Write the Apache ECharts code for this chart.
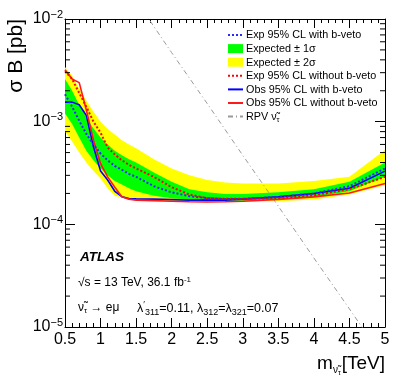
<!DOCTYPE html>
<html>
<head>
<meta charset="utf-8">
<script src="https://cdn.jsdelivr.net/npm/echarts@6/dist/echarts.min.js"></script>
<style>
    html,body{margin:0;padding:0;background:#ffffff;}
    #container{width:407px;height:391px;}
</style>
</head>
<body>
<div id="container"></div>
<script>
// mass points [TeV]
var mass = [0.5, 0.6, 0.7, 0.8, 0.9, 1.0, 1.1, 1.2, 1.3, 1.4, 1.5, 1.75, 2.0, 2.25, 2.5, 2.75, 3.0, 3.5, 4.0, 4.5, 5.0];
// limits [pb]
var expVeto   = [1.85e-3, 1.4e-3, 1.02e-3, 7.6e-4, 6.0e-4, 4.9e-4, 4.2e-4, 3.7e-4, 3.4e-4, 3.1e-4, 2.9e-4, 2.35e-4, 2.05e-4, 1.88e-4, 1.8e-4, 1.76e-4, 1.77e-4, 1.85e-4, 2.0e-4, 2.35e-4, 3.5e-4];
var sig1Up    = [2.6e-3, 2.0e-3, 1.45e-3, 1.1e-3, 8.6e-4, 7.0e-4, 6.0e-4, 5.2e-4, 4.7e-4, 4.3e-4, 4.0e-4, 3.2e-4, 2.6e-4, 2.2e-4, 2.05e-4, 1.98e-4, 1.98e-4, 2.05e-4, 2.2e-4, 2.6e-4, 4.0e-4];
var sig1Down  = [1.2e-3, 9.5e-4, 7.0e-4, 5.2e-4, 4.2e-4, 3.5e-4, 3.0e-4, 2.65e-4, 2.45e-4, 2.25e-4, 2.1e-4, 1.9e-4, 1.8e-4, 1.75e-4, 1.72e-4, 1.7e-4, 1.7e-4, 1.75e-4, 1.85e-4, 2.1e-4, 2.9e-4];
var sig2Up    = [3.4e-3, 2.8e-3, 2.1e-3, 1.6e-3, 1.25e-3, 1.0e-3, 8.5e-4, 7.5e-4, 6.6e-4, 6.0e-4, 5.5e-4, 4.3e-4, 3.5e-4, 3.0e-4, 2.7e-4, 2.55e-4, 2.5e-4, 2.5e-4, 2.65e-4, 2.9e-4, 5.3e-4];
var sig2Down  = [8.0e-4, 6.4e-4, 5.0e-4, 4.0e-4, 3.3e-4, 2.8e-4, 2.25e-4, 1.9e-4, 1.82e-4, 1.78e-4, 1.75e-4, 1.72e-4, 1.7e-4, 1.68e-4, 1.66e-4, 1.65e-4, 1.65e-4, 1.68e-4, 1.75e-4, 1.95e-4, 2.4e-4];
var expNoVeto = [3.1e-3, 2.6e-3, 1.9e-3, 1.4e-3, 1.0e-3, 7.8e-4, 5.6e-4, 4.8e-4, 4.2e-4, 3.8e-4, 3.5e-4, 2.9e-4, 2.3e-4, 1.95e-4, 1.8e-4, 1.77e-4, 1.77e-4, 1.8e-4, 1.92e-4, 2.2e-4, 2.9e-4];
var obsVeto   = [1.55e-3, 1.55e-3, 1.46e-3, 1.15e-3, 5.7e-4, 3.3e-4, 2.7e-4, 2.1e-4, 1.86e-4, 1.78e-4, 1.77e-4, 1.76e-4, 1.74e-4, 1.72e-4, 1.72e-4, 1.72e-4, 1.76e-4, 1.85e-4, 2.0e-4, 2.25e-4, 3.3e-4];
var obsNoVeto = [3.2e-3, 2.6e-3, 2.4e-3, 1.3e-3, 6.6e-4, 3.9e-4, 2.9e-4, 2.3e-4, 1.86e-4, 1.76e-4, 1.72e-4, 1.7e-4, 1.68e-4, 1.66e-4, 1.65e-4, 1.66e-4, 1.68e-4, 1.75e-4, 1.85e-4, 2.02e-4, 2.5e-4];
// RPV theory line
var rpvMass = [1.6, 2.0, 2.5, 3.0, 3.5, 4.0, 4.5, 5.0];
var rpvXsec = [1.2e-2, 4.7e-3, 1.5e-3, 4.7e-4, 1.5e-4, 4.7e-5, 1.5e-5, 4.7e-6];
// log minor tick positions
var minorVals = [2e-5,3e-5,4e-5,5e-5,6e-5,7e-5,8e-5,9e-5,2e-4,3e-4,4e-4,5e-4,6e-4,7e-4,8e-4,9e-4,2e-3,3e-3,4e-3,5e-3,6e-3,7e-3,8e-3,9e-3];

var FONT = 'Liberation Sans, Arial, Helvetica, sans-serif';

function pairs(xs, ys){
    var out = [];
    for (var i=0;i<xs.length;i++){ out.push([xs[i], ys[i]]); }
    return out;
}
function band(up, down){
    var out = [];
    for (var i=0;i<mass.length;i++){ out.push([mass[i], up[i], down[i]]); }
    return out;
}
// polygon between up/down, drawn once from the first item
function bandRender(params, api){
    if (params.dataIndex !== 0) return null;
    var s = params.seriesIndex === 0 ? [sig2Up, sig2Down] : [sig1Up, sig1Down];
    var top = [], bot = [];
    for (var i=0;i<mass.length;i++){
        top.push(api.coord([mass[i], s[0][i]]));
        bot.unshift(api.coord([mass[i], s[1][i]]));
    }
    return {type:'polygon', shape:{points: top.concat(bot)}, style:{fill: api.visual('color')}};
}
function minorRender(params, api){
    var v = api.value(1);
    var l = api.coord([0.5, v]);
    var r = api.coord([5, v]);
    return {type:'group', children:[
        {type:'line', shape:{x1:l[0], y1:l[1], x2:l[0]+5, y2:l[1]}, style:{stroke:'#000', lineWidth:1}},
        {type:'line', shape:{x1:r[0], y1:r[1], x2:r[0]-5, y2:r[1]}, style:{stroke:'#000', lineWidth:1}}
    ]};
}

var dom = document.getElementById("container");
var myChart = echarts.init(dom, null, {renderer:'canvas'});

var yLabel = {
    show:true, margin:2, color:'#000', fontFamily:FONT, fontSize:16,
    formatter:function(v){
        var e = Math.round(Math.log(v)/Math.LN10);
        return '{b|10}{s|' + (e<0 ? '\u2212' + (-e) : e) + '}';
    },
    rich:{
        b:{fontSize:16, fontFamily:FONT, color:'#000'},
        s:{fontSize:11, fontFamily:FONT, color:'#000', padding:[0,0,9,0]}
    }
};
var noSym = {opacity:0};

var option = {
    backgroundColor:'#ffffff',
    animation:false,
    grid:{left:65, right:22, top:19, bottom:64},
    legend:{
        orient:'vertical',
        left:227, top:30, padding:0,
        itemWidth:15, itemHeight:9, itemGap:2.6,
        textStyle:{fontSize:10.8, fontFamily:FONT, color:'#000', padding:[1,0,0,-2],
            rich:{n:{fontSize:10.8, fontFamily:FONT}, t:{fontSize:7.5, fontFamily:FONT, padding:[5,0,0,0]}}},
        formatter:function(name){
            if (name === 'RPV') return '{n|RPV \u03bd\u0303}{t|\u03c4}';
            return name;
        },
        data:[
            {name:'Exp 95% CL with b-veto', itemStyle:noSym},
            {name:'Expected \u00b1 1\u03c3', icon:'rect'},
            {name:'Expected \u00b1 2\u03c3', icon:'rect'},
            {name:'Exp 95% CL without b-veto', itemStyle:noSym},
            {name:'Obs 95% CL with b-veto', itemStyle:noSym},
            {name:'Obs 95% CL without b-veto', itemStyle:noSym},
            {name:'RPV', itemStyle:noSym}
        ]
    },
    xAxis:[{
        type:'value', min:0.5, max:5, interval:0.5,
        axisLine:{show:true, onZero:false, lineStyle:{color:'#000', width:1}},
        axisTick:{show:true, inside:true, length:9, lineStyle:{color:'#000'}},
        minorTick:{show:true, splitNumber:5, length:4, lineStyle:{color:'#000'}},
        axisLabel:{show:true, margin:5, color:'#000', fontFamily:FONT, fontSize:16,
            formatter:function(v){ return String(Math.round(v*10)/10); }},
        splitLine:{show:false}
    },{
        type:'value', min:0.5, max:5, interval:0.5, position:'top',
        axisLine:{show:true, onZero:false, lineStyle:{color:'#000', width:1}},
        axisTick:{show:true, inside:true, length:9, lineStyle:{color:'#000'}},
        minorTick:{show:true, splitNumber:5, length:4, lineStyle:{color:'#000'}},
        axisLabel:{show:false},
        splitLine:{show:false}
    }],
    yAxis:[{
        type:'log', logBase:10, min:1e-5, max:1e-2, splitNumber:3,
        axisLine:{show:true, onZero:false, lineStyle:{color:'#000', width:1}},
        axisTick:{show:true, inside:true, length:10, lineStyle:{color:'#000'}},
        axisLabel:yLabel,
        splitLine:{show:false}
    },{
        type:'log', logBase:10, min:1e-5, max:1e-2, splitNumber:3, position:'right',
        axisLine:{show:true, onZero:false, lineStyle:{color:'#000', width:1}},
        axisTick:{show:true, inside:true, length:10, lineStyle:{color:'#000'}},
        axisLabel:{show:false},
        splitLine:{show:false}
    }],
    series:[
        {name:'Expected \u00b1 2\u03c3', type:'custom', renderItem:bandRender, data:band(sig2Up, sig2Down),
            encode:{x:0, y:1}, itemStyle:{color:'#ffff00'}, z:1},
        {name:'Expected \u00b1 1\u03c3', type:'custom', renderItem:bandRender, data:band(sig1Up, sig1Down),
            encode:{x:0, y:1}, itemStyle:{color:'#00ff00'}, z:2},
        {name:'RPV', type:'line', data:pairs(rpvMass, rpvXsec), symbol:'none', z:3,
            itemStyle:{color:'#9a9a9a'}, lineStyle:{color:'#9a9a9a', width:1, type:[5,3,1,3]}},
        {name:'Exp 95% CL with b-veto', type:'line', data:pairs(mass, expVeto), symbol:'none', z:5,
            itemStyle:{color:'#2a2aff'}, lineStyle:{color:'#2a2aff', width:2, type:[2,2]}},
        {name:'Exp 95% CL without b-veto', type:'line', data:pairs(mass, expNoVeto), symbol:'none', z:5,
            itemStyle:{color:'#ff0000'}, lineStyle:{color:'#ff0000', width:2, type:[2,2]}},
        {name:'Obs 95% CL with b-veto', type:'line', data:pairs(mass, obsVeto), symbol:'none', z:4,
            itemStyle:{color:'#0000ff'}, lineStyle:{color:'#0000ff', width:1.6}},
        {name:'Obs 95% CL without b-veto', type:'line', data:pairs(mass, obsNoVeto), symbol:'none', z:4,
            itemStyle:{color:'#ff0000'}, lineStyle:{color:'#ff1a1a', width:1.6}},
        {name:'minor', type:'custom', renderItem:minorRender, data:minorVals.map(function(v){ return [0.5, v]; }),
            encode:{x:0, y:1}, clip:false, silent:true, z:10}
    ],
    graphic:[
        {type:'text', x:16, y:19, rotation:Math.PI/2,
            style:{text:'\u03c3 B [pb]', fontSize:21, fontFamily:FONT, fill:'#000', align:'right', verticalAlign:'middle'}},
        {type:'text', x:385, y:364,
            style:{text:'{m|m}{s|\u03bd\u0303}{t|\u03c4}{m|[TeV]}', align:'right', verticalAlign:'middle',
                rich:{
                    m:{fontSize:19, fontFamily:FONT, fill:'#000'},
                    s:{fontSize:10, fontFamily:FONT, fill:'#000', padding:[12,0,0,0]},
                    t:{fontSize:7, fontFamily:FONT, fill:'#000', padding:[19,1,0,0]}
                }}},
        {type:'text', x:80, y:257,
            style:{text:'ATLAS', fontSize:13.5, fontWeight:'bold', fontStyle:'italic', fontFamily:FONT, fill:'#000', verticalAlign:'middle'}},
        {type:'text', x:78, y:283,
            style:{text:'{a|\u221as = 13 TeV, 36.1 fb}{u|-1}', verticalAlign:'middle',
                rich:{a:{fontSize:12, fontFamily:FONT, fill:'#000'}, u:{fontSize:8, fontFamily:FONT, fill:'#000', padding:[0,0,7,0]}}}},
        {type:'text', x:78, y:308,
            style:{text:'{a|\u03bd\u0303}{t|\u03c4}{a| \u2192 e\u03bc}', verticalAlign:'middle',
                rich:{a:{fontSize:12, fontFamily:FONT, fill:'#000'}, t:{fontSize:8, fontFamily:FONT, fill:'#000', padding:[6,0,0,0]}}}},
        {type:'text', x:137, y:309,
            style:{text:'{a|\u03bb}{p|\u2032}{t|311}{a|=0.11, \u03bb}{t|312}{a|=\u03bb}{t|321}{a|=0.07}', verticalAlign:'middle',
                rich:{a:{fontSize:12.5, fontFamily:FONT, fill:'#000'}, p:{fontSize:9, fontFamily:FONT, fill:'#000', padding:[0,0,9,0]},
                    t:{fontSize:9, fontFamily:FONT, fill:'#000', padding:[7,0,0,0]}}}}
    ]
};

if (option && typeof option === "object") {
    myChart.setOption(option, true);
}
</script>
</body>
</html>
